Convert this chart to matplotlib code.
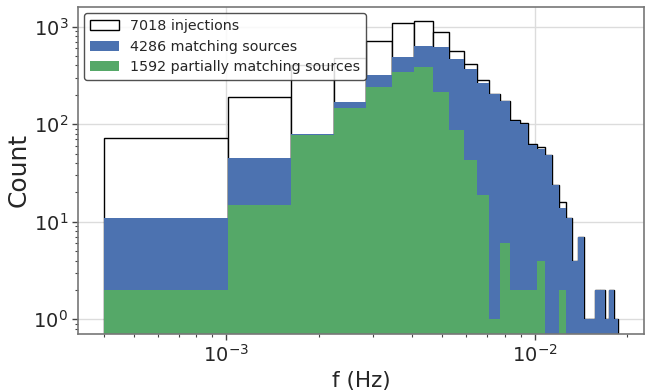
import numpy as np
import matplotlib
matplotlib.use('Agg')
import matplotlib.pyplot as plt

# frequency range of the linear bins
f_min = 4.0e-4
f_max = 1.87e-2
n_bins = 30

# counts per bin
injections = [73, 188, 401, 472, 716, 1078, 1130, 873, 561, 413,
              283, 202, 174, 110, 103, 62, 59, 48, 24, 16,
              11, 4, 7, 1, 1, 2, 2, 1, 2, 1]
matching = [11, 45, 80, 170, 320, 491, 640, 621, 465, 364,
            262, 202, 172, 108, 100, 61, 56, 48, 24, 14,
            11, 4, 7, 1, 1, 2, 2, 1, 2, 1]
partial = [2, 15, 77, 145, 242, 340, 388, 215, 87, 43,
           19, 1, 6, 2, 2, 2, 4, 0, 0, 2,
           0, 0, 0, 0, 0, 0, 0, 0, 0, 0]

labels = ['7018 injections', '4286 matching sources',
          '1592 partially matching sources']

edges = np.linspace(f_min, f_max, n_bins + 1)
centers = 0.5 * (edges[:-1] + edges[1:])

plt.rcParams['font.family'] = ['DejaVu Sans']
plt.rcParams['text.color'] = '#262626'
plt.rcParams['axes.labelcolor'] = '#262626'
plt.rcParams['xtick.color'] = '#262626'
plt.rcParams['ytick.color'] = '#262626'

fig = plt.figure(figsize=(6.49, 3.9), dpi=100)
ax = fig.add_axes([0.120, 0.144, 0.872, 0.838])

ax.hist(centers, bins=edges, weights=injections, color='white',
        edgecolor='black', linewidth=1.0, label=labels[0], log=True)
ax.hist(centers, bins=edges, weights=matching, color='#4C72B0',
        label=labels[1], log=True)
ax.hist(centers, bins=edges, weights=partial, color='#55A868',
        label=labels[2], log=True)

ax.set_xscale('log')
ax.set_xlim(3.3e-4, 2.26e-2)
ax.set_ylim(0.71, 1590)

ax.grid(True, which='major', color='#dcdcdc', linewidth=1.0)
ax.set_axisbelow(True)
for s in ax.spines.values():
    s.set_color('#777777')
    s.set_linewidth(1.2)

ax.tick_params(which='major', direction='out', length=4, width=1,
               color='#444444', labelsize=14, pad=3)
ax.tick_params(which='minor', direction='out', length=2.5, width=0.8,
               color='#444444')

ax.set_xlabel('f (Hz)', fontsize=15.5, labelpad=4)
ax.set_ylabel('Count', fontsize=18, labelpad=2)

leg = ax.legend(loc='upper left', fontsize=10.3, frameon=True,
                fancybox=True, edgecolor='#333333', framealpha=0.85,
                borderaxespad=0.45, handlelength=2.0, labelspacing=0.45)
leg.set_zorder(10)

fig.savefig('out.png', dpi=100)
